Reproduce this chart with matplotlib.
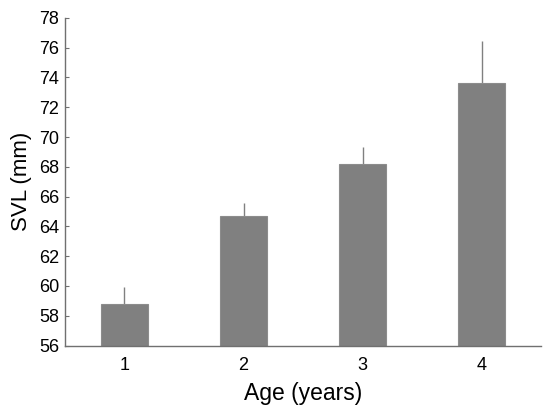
import matplotlib
matplotlib.use("Agg")
import matplotlib.pyplot as plt

ages = [1, 2, 3, 4]
age_labels = ["1", "2", "3", "4"]
svl_mean = [58.8, 64.7, 68.2, 73.6]
svl_err = [1.15, 0.85, 1.1, 2.85]
yticks = [56, 58, 60, 62, 64, 66, 68, 70, 72, 74, 76, 78]

plt.rcParams['font.family'] = ['Liberation Sans', 'DejaVu Sans']

fig = plt.figure(figsize=(5.5, 4.07), dpi=100)
ax = fig.add_axes([0.118, 0.151, 0.866, 0.805])

ax.bar(ages, svl_mean, width=0.4, bottom=0, color='#808080', edgecolor='#8c8c8c', linewidth=0.8, zorder=2)
ax.errorbar(ages, svl_mean, yerr=[[0]*len(svl_err), svl_err], fmt='none', ecolor='#808080',
            elinewidth=1.0, capsize=0, zorder=1)

ax.set_xlim(0.5, 4.5)
ax.set_ylim(56, 78)
ax.set_yticks(yticks)
ax.set_xticks(ages)
ax.set_xticklabels(age_labels)

for s in ['top', 'right']:
    ax.spines[s].set_visible(False)
for s in ['left', 'bottom']:
    ax.spines[s].set_color('#707070')
    ax.spines[s].set_linewidth(1.0)

ax.tick_params(axis='y', direction='in', length=3, color='#707070', labelsize=13, pad=4)
ax.tick_params(axis='x', length=0, labelsize=13, pad=8)

ax.set_xlabel("Age (years)", fontsize=16.5, labelpad=6)
ax.set_ylabel("SVL (mm)", fontsize=16, labelpad=5)

fig.savefig("out.png", dpi=100)
